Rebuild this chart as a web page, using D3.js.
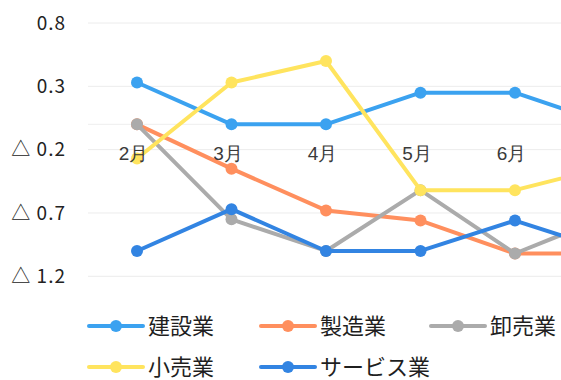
<!DOCTYPE html>
<html>
<head>
<meta charset="utf-8">
<script src="https://cdn.jsdelivr.net/npm/d3@7"></script>
<style>
  html, body { margin: 0; padding: 0; background: #fff; overflow: hidden; }
  svg { display: block; font-family: "Noto Sans CJK JP", "Noto Sans", sans-serif; }
</style>
</head>
<body>
<svg id="chart" width="561" height="380"></svg>
<script>
// Months on the category axis
const months = ["2月", "3月", "4月", "5月", "6月", "7月"];

// Index values per industry (negative values are shown with △)
const seriesNames = ["建設業", "製造業", "卸売業", "小売業", "サービス業"];
const construction  = [0.33, 0.0, 0.0, 0.25, 0.25, 0.0];
const manufacturing = [0.0, -0.35, -0.68, -0.76, -1.02, -1.02];
const wholesale     = [0.0, -0.75, -1.0, -0.52, -1.02, -0.72];
const retail        = [-0.27, 0.33, 0.5, -0.52, -0.52, -0.33];
const services      = [-1.0, -0.67, -1.0, -1.0, -0.76, -1.0];

// Value-axis tick labels
const yTicks = [0.8, 0.3, -0.2, -0.7, -1.2];

const colors = ["#3ba2f0", "#ff8f5e", "#ababab", "#ffe45e", "#3284e2"];
const values = [construction, manufacturing, wholesale, retail, services];

const W = 561;
const svg = d3.select("#chart");

const x = d3.scalePoint().domain(months).range([137, 609.5]);
const y = d3.scaleLinear().domain([-1.2, 0.8]).range([276.3, 23]);

// Horizontal gridlines
svg.append("g")
  .selectAll("line")
  .data(yTicks)
  .join("line")
  .attr("x1", 88).attr("x2", W)
  .attr("y1", d => y(d)).attr("y2", d => y(d))
  .attr("stroke", "#ececec").attr("stroke-width", 1);

// Zero line
svg.append("line")
  .attr("x1", 88).attr("x2", W)
  .attr("y1", y(0)).attr("y2", y(0))
  .attr("stroke", "#eeeeee").attr("stroke-width", 1);

// Value axis labels
const fmt = v => (v < 0 ? "△ " + d3.format(".1f")(-v) : d3.format(".1f")(v));
const yAxis = svg.append("g")
  .attr("transform", "translate(66,0)")
  .call(d3.axisLeft(y).tickValues(yTicks).tickFormat(fmt).tickSize(0).tickPadding(0));
yAxis.select(".domain").remove();
yAxis.selectAll("text")
  .attr("font-size", 19)
  .attr("letter-spacing", "1px")
  .attr("fill", "#222")
  .attr("font-family", "\"Noto Sans CJK JP\", sans-serif");

// Series lines and markers
const line = d3.line().x((d, i) => x(months[i])).y(d => y(d));
const seriesG = svg.append("g");
values.forEach((vals, k) => {
  const g = seriesG.append("g");
  g.append("path")
    .attr("d", line(vals))
    .attr("fill", "none")
    .attr("stroke", colors[k])
    .attr("stroke-width", 4)
    .attr("stroke-linejoin", "round")
    .attr("stroke-linecap", "round");
  g.selectAll("circle")
    .data(vals)
    .join("circle")
    .attr("cx", (d, i) => x(months[i]))
    .attr("cy", d => y(d))
    .attr("r", 6)
    .attr("fill", colors[k]);
});

// Category axis labels, drawn above the lines; only those inside the view
const xAxis = svg.append("g")
  .attr("transform", "translate(-4,153)")
  .call(d3.axisBottom(x).tickSize(0).tickPadding(0));
xAxis.select(".domain").remove();
xAxis.selectAll(".tick").filter(d => x(d) + 20 > W).remove();
xAxis.selectAll("text")
  .attr("dy", "0.35em")
  .attr("font-size", 19)
  .attr("font-weight", 500)
  .attr("fill", "#3a3a3a");

// Legend
const legendPos = [
  [89, 326], [261, 326], [431, 326],
  [89, 367], [261, 367]
];
const legend = svg.append("g");
seriesNames.forEach((name, k) => {
  const [lx, ly] = legendPos[k];
  const g = legend.append("g").attr("transform", `translate(${lx},${ly})`);
  g.append("line")
    .attr("x1", 0).attr("x2", 54)
    .attr("y1", 0).attr("y2", 0)
    .attr("stroke", colors[k]).attr("stroke-width", 4)
    .attr("stroke-linecap", "round");
  g.append("circle").attr("cx", 27).attr("cy", 0).attr("r", 6).attr("fill", colors[k]);
  g.append("text")
    .attr("x", 59).attr("y", 0)
    .attr("dy", "0.36em")
    .attr("font-size", 22)
    .attr("fill", "#1f1f1f")
    .text(name);
});
</script>
</body>
</html>
